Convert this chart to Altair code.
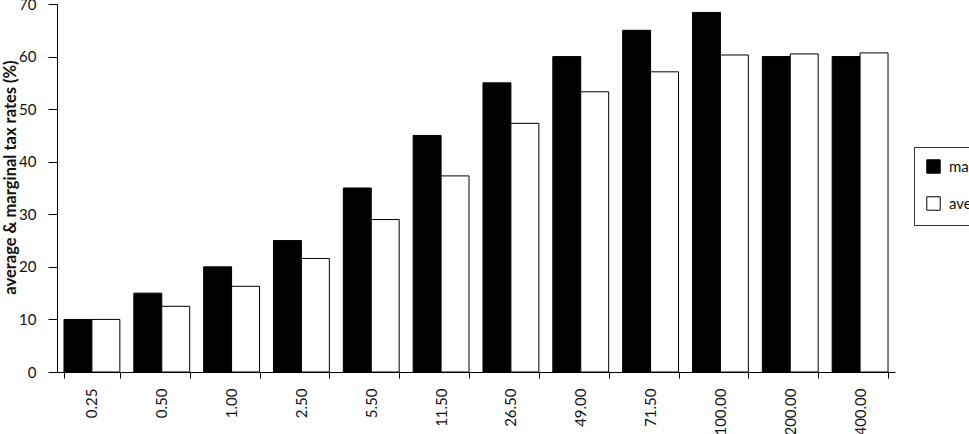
import altair as alt
import pandas as pd

incomes = ["0.25", "0.50", "1.00", "2.50", "5.50", "11.50", "26.50",
           "49.00", "71.50", "100.00", "200.00", "400.00"]
marginal = [10, 15, 20, 25, 35, 45, 55, 60, 65, 68.4, 60, 60]
average = [10, 12.5, 16.3, 21.6, 29.0, 37.3, 47.3, 53.3, 57.1, 60.3, 60.5, 60.7]
series = ["marginal", "average"]
fills = ["#000000", "#ffffff"]
y_ticks = [0, 10, 20, 30, 40, 50, 60, 70]

rows = []
for i, inc in enumerate(incomes):
    rows.append({"income": inc, "series": "marginal", "rate": marginal[i]})
    rows.append({"income": inc, "series": "average", "rate": average[i]})
df = pd.DataFrame(rows)

FONT = "Lato"

chart = alt.Chart(df).mark_bar(stroke="black", strokeWidth=1).encode(
    x=alt.X(
        "income:N",
        sort=incomes,
        scale=alt.Scale(paddingInner=0.2, paddingOuter=0.1),
        axis=alt.Axis(
            title=None,
            labelAngle=270,
            labelAlign="right",
            labelBaseline="middle",
            tickBand="extent",
            tickSize=6,
            labelPadding=10,
            labelFontSize=15,
            labelFont=FONT,
            labelColor="#111111",
            domainColor="black",
            tickColor="black",
        ),
    ),
    xOffset=alt.XOffset("series:N", sort=series,
                        scale=alt.Scale(domain=series, paddingInner=0, paddingOuter=0)),
    y=alt.Y(
        "rate:Q",
        scale=alt.Scale(domain=[0, 70], nice=False),
        axis=alt.Axis(
            values=y_ticks,
            title="average & marginal tax rates (%)",
            titleFont=FONT,
            titleFontSize=16.5,
            titleFontWeight="bold",
            titleColor="#111111",
            titleAngle=270,
            titleAlign="center",
            titleBaseline="middle",
            titleX=-47,
            titleY=173,
            tickSize=9,
            labelPadding=12,
            labelFontSize=15,
            labelFont=FONT,
            labelColor="#111111",
            domainColor="black",
            tickColor="black",
            grid=False,
        ),
    ),
    fill=alt.Fill(
        "series:N",
        sort=series,
        scale=alt.Scale(domain=series, range=fills),
        legend=alt.Legend(
            title=None,
            orient="none",
            legendX=857,
            legendY=143,
            direction="vertical",
            symbolType="square",
            symbolSize=180,
            symbolStrokeColor="black",
            symbolStrokeWidth=1,
            labelFont=FONT,
            labelFontSize=15,
            labelColor="#111111",
            labelOffset=8,
            padding=12,
            rowPadding=18,
            strokeColor="#333333",
            fillColor="white",
        ),
    ),
).properties(
    width=838,
    height=368,
    padding={"left": 57, "top": 4, "right": 74, "bottom": 62},
    autosize=alt.AutoSizeParams(type="none"),
    background="white",
).configure_view(stroke=None)

chart.save("out.html", embed_options={"renderer": "svg", "actions": False})
